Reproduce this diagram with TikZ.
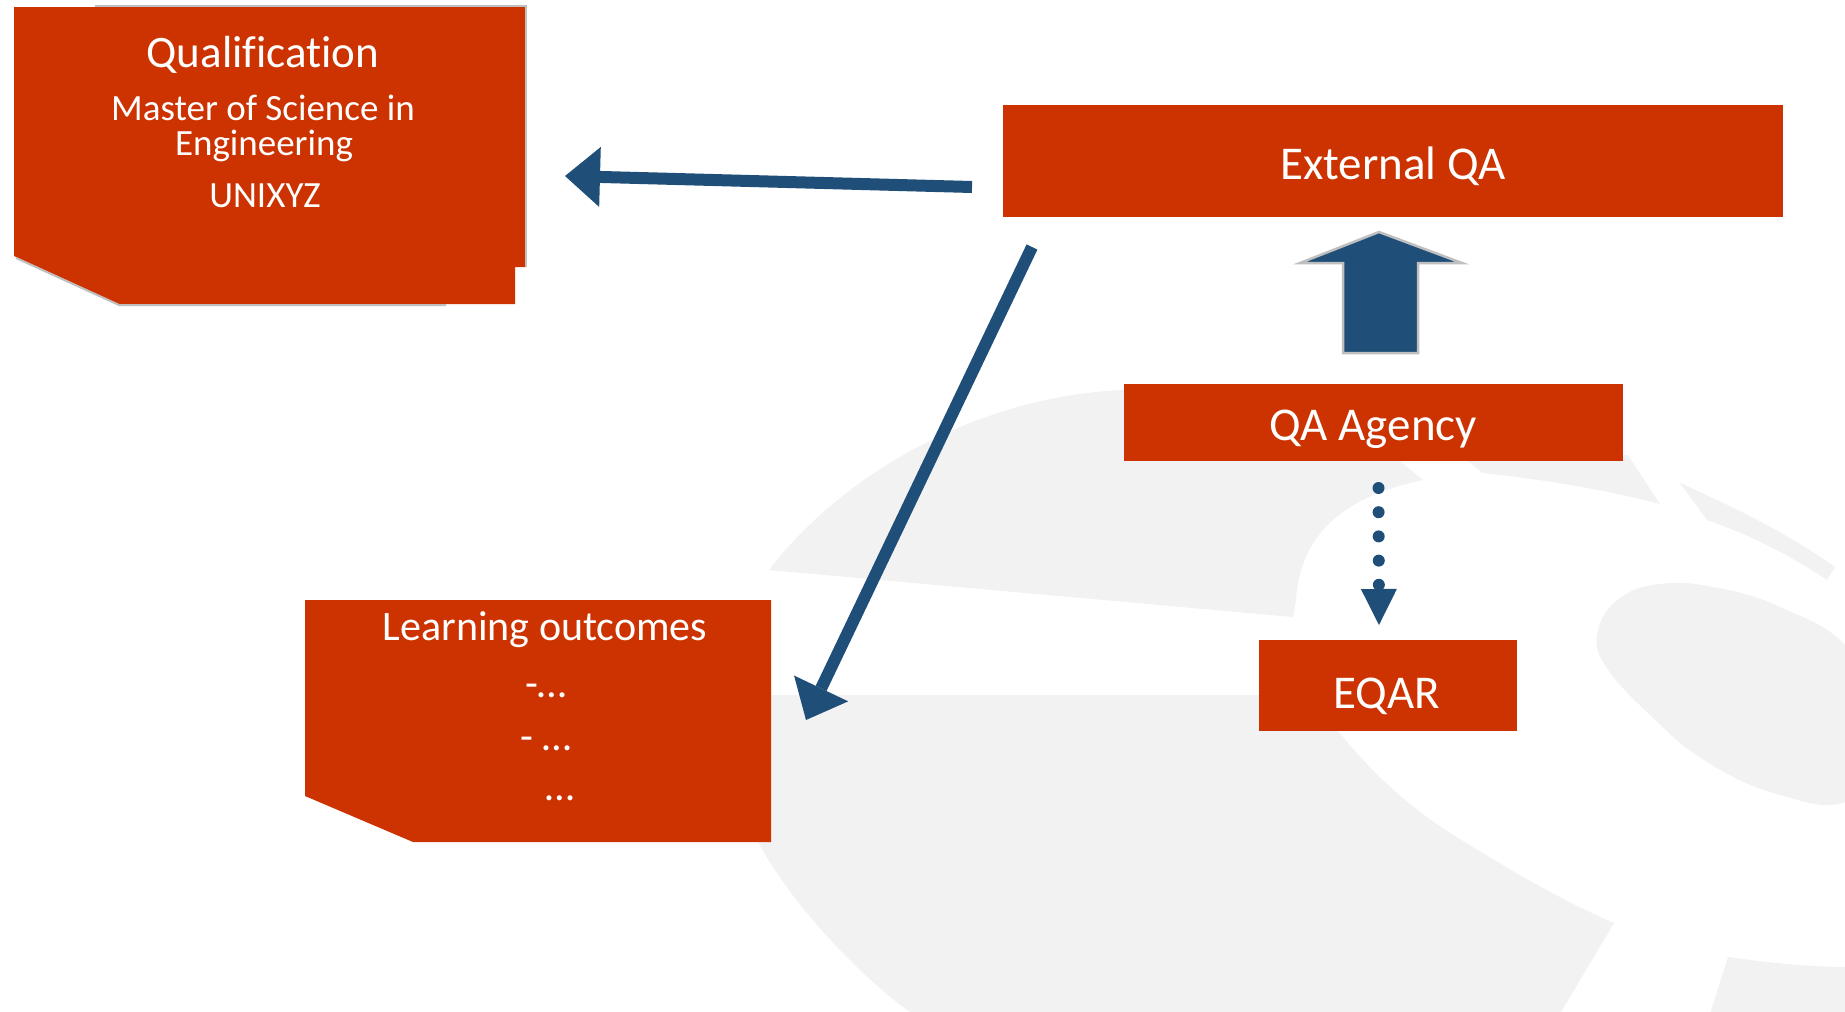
\documentclass[tikz,border=0pt]{standalone}
\usepackage{fontspec}
\setmainfont{Carlito}[Ligatures=NoCommon]
\usetikzlibrary{arrows.meta}

\definecolor{boxred}{HTML}{CC3300}
\definecolor{arrowblue}{HTML}{1F4E79}
\definecolor{wash}{HTML}{F2F2F2}
\definecolor{rim}{HTML}{BFBFBF}

\begin{document}
\begin{tikzpicture}[x=1pt,y=-1pt,
  redbox/.style={fill=boxred, draw=none, inner sep=0pt, outer sep=0pt},
  caption/.style={text=white, inner sep=0pt, anchor=base},
  big/.style={font=\fontsize{47}{52}\selectfont},
  title/.style={font=\fontsize{45}{50}\selectfont},
  sub/.style={font=\fontsize{37}{41}\selectfont},
  lotext/.style={font=\fontsize{42}{48}\selectfont},
  flow/.style={draw=arrowblue, line width=12pt, line cap=butt,
    -{Triangle[width=60pt,length=35pt,line width=0pt]}},
  dotflow/.style={draw=arrowblue, line width=12pt, line cap=round,
    dash pattern=on 0pt off 24.2pt,
    -{Triangle[width=36pt,length=36pt,line width=0pt]}},
]
\useasboundingbox (0,0) rectangle (1845,1012);
\fill[white] (0,0) rectangle (1845,1012);

% faint logo shapes in the background
\begin{scope}
  \clip (0,0) rectangle (1845,1012);
  % upper wing
  \fill[wash] (769,570) .. controls (850,465) and (990,395) .. (1124,390)
    -- (1380,445) -- (1423,480)
    .. controls (1350,495) and (1300,530) .. (1296,600) -- (1293,617) -- cycle;
  % sliver right of the wing
  \fill[wash] (1460,455) -- (1628,455) -- (1633,463) -- (1660,504)
    .. controls (1600,488) and (1530,478) .. (1483,473) -- cycle;
  % thin stroke
  \fill[wash] (1680,483) .. controls (1740,510) and (1790,535) .. (1835,567)
    -- (1827,580) .. controls (1790,555) and (1750,535) .. (1707,520) -- cycle;
  % leaf
  \fill[wash] plot[smooth cycle, tension=0.7] coordinates {(1598,630) (1620,598)
    (1660,584) (1713,587) (1780,607) (1850,650) (1900,740) (1850,800)
    (1780,795) (1707,762) (1650,715) (1605,665)};
  % lower body
  \fill[wash] (735,695) -- (1320,695) -- (1338,731)
    .. controls (1370,770) and (1400,800) .. (1450,833)
    .. controls (1510,870) and (1560,900) .. (1614,923)
    -- (1561,1012) -- (910,1012)
    .. controls (865,980) and (795,910) .. (758,842) -- cycle;
  % bottom right piece
  \fill[wash] (1728,957) .. controls (1770,963) and (1810,967) .. (1850,967)
    -- (1850,1020) -- (1708,1020) -- cycle;
\end{scope}

% Qualification card
\fill[boxred] (14,7) -- (526,7) -- (526,267) -- (515,267) -- (515,304)
  -- (119,304) -- (14,256) -- cycle;
\draw[rim, line width=2pt] (95,6) -- (526,6) -- (526,267);
\draw[rim, line width=2pt] (16,258) -- (119,305) -- (446,305);
\node[caption, title] (qual-title) at (263,67) {Qualification};
\node[caption, sub] (qual-degree) at (263,120) {Master of Science in};
\node[caption, sub] (qual-field) at (264,155) {Engineering};
\node[caption, sub] (qual-uni) at (265,207) {UNIXYZ};

% Learning outcomes card
\fill[boxred] (305,600) -- (771,600) -- (771,842) -- (413,842) -- (305,796) -- cycle;
\node[caption, lotext] (lo-title) at (545,640) {Learning outcomes};
\node[caption, lotext] (lo-item1) at (546,697) {-…};
\node[caption, lotext] (lo-item2) at (546,750) {- …};
\node[caption, lotext] (lo-item3) at (560,800) {…};

% right-hand column
\node[redbox, minimum width=780pt, minimum height=112pt] (extqa) at (1393,161) {};
\node[caption, big] (extqa-text) at (1393,179) {External QA};

\node[redbox, minimum width=499pt, minimum height=77pt] (agency) at (1373.5,422.5) {};
\node[caption, big] (agency-text) at (1373,440) {QA Agency};

\node[redbox, minimum width=258pt, minimum height=91pt] (eqar) at (1388,685.5) {};
\node[caption, big] (eqar-text) at (1387,708) {EQAR};

% block arrow: agency reports up to external QA
\filldraw[fill=arrowblue, draw=rim, line width=2.5pt, line join=miter]
  (1379,232) -- (1462,263) -- (1418,263) -- (1418,353) -- (1343,353)
  -- (1343,263) -- (1300,263) -- cycle;

% connector end points
\coordinate (extqa-out-left) at ([shift={(-31,26)}]extqa.west);
\coordinate (qual-in) at (565,176);
\coordinate (extqa-out-down) at ([shift={(29,30)}]extqa.south west);
\coordinate (lo-in) at (806,720);
\coordinate (agency-out) at ([shift={(5,27)}]agency.south);
\coordinate (eqar-in) at ([shift={(-9,-15)}]eqar.north);

\draw[flow] (extqa-out-left) -- (qual-in);
\draw[flow] (extqa-out-down) -- (lo-in);
\draw[dotflow] (agency-out) -- (eqar-in);
\end{tikzpicture}
\end{document}
